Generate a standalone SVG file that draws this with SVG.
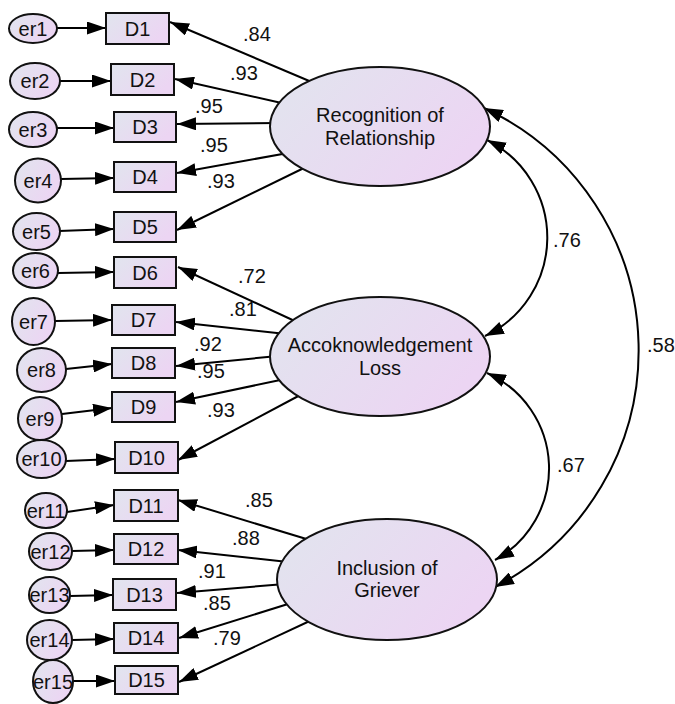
<svg xmlns="http://www.w3.org/2000/svg" width="675" height="704" viewBox="0 0 675 704">
<defs>
<linearGradient id="g" x1="0" y1="0" x2="1" y2="0.5">
<stop offset="0" stop-color="#e1e5ee"/>
<stop offset="1" stop-color="#ecd5f3"/>
</linearGradient>
<marker id="a" markerUnits="userSpaceOnUse" viewBox="0 0 19 13" markerWidth="19" markerHeight="13" refX="19" refY="6.5" orient="auto-start-reverse">
<path d="M0,0 L19,6.5 L0,13 z" fill="#000"/>
</marker>
</defs>
<style>
.n{fill:url(#g);stroke:#111;stroke-width:2}
.t{font-family:"Liberation Sans",Arial,sans-serif;font-size:20px;fill:#111;text-anchor:middle}
.l{font-family:"Liberation Sans",Arial,sans-serif;font-size:20px;fill:#111}
.c{fill:none;stroke:#000;stroke-width:2;marker-end:url(#a)}
.cc{fill:none;stroke:#000;stroke-width:2;marker-end:url(#a);marker-start:url(#a)}
</style>
<rect width="675" height="704" fill="#fff"/>
<g id="connectors">
<line class="c" x1="57" y1="28" x2="106" y2="28"/>
<line class="c" x1="60" y1="81" x2="111" y2="81"/>
<line class="c" x1="57" y1="128" x2="114" y2="128"/>
<line class="c" x1="61" y1="179" x2="114" y2="178"/>
<line class="c" x1="59" y1="231" x2="114" y2="229"/>
<line class="c" x1="58" y1="273" x2="114" y2="272"/>
<line class="c" x1="55" y1="321" x2="112" y2="320"/>
<line class="c" x1="66" y1="369" x2="112" y2="364"/>
<line class="c" x1="62" y1="414" x2="112" y2="408"/>
<line class="c" x1="66" y1="461" x2="115" y2="459"/>
<line class="c" x1="67" y1="512" x2="114" y2="505"/>
<line class="c" x1="72" y1="551" x2="114" y2="550"/>
<line class="c" x1="70" y1="596" x2="113" y2="595"/>
<line class="c" x1="72" y1="640" x2="114" y2="639"/>
<line class="c" x1="73" y1="681" x2="115" y2="681"/>
<line class="c" x1="314" y1="83" x2="170" y2="22"/>
<line class="c" x1="286" y1="104" x2="175" y2="79"/>
<line class="c" x1="278" y1="123" x2="177" y2="124"/>
<line class="c" x1="288" y1="153" x2="177" y2="173"/>
<line class="c" x1="307" y1="166.5" x2="177" y2="230"/>
<line class="c" x1="299" y1="323" x2="178" y2="267"/>
<line class="c" x1="286" y1="334" x2="176" y2="322"/>
<line class="c" x1="278" y1="356" x2="176" y2="366"/>
<line class="c" x1="285" y1="379" x2="176" y2="402"/>
<line class="c" x1="304" y1="393" x2="178" y2="460"/>
<line class="c" x1="313" y1="541" x2="178" y2="500"/>
<line class="c" x1="288" y1="562" x2="178" y2="550"/>
<line class="c" x1="285" y1="584" x2="177" y2="593"/>
<line class="c" x1="288" y1="604" x2="179" y2="638"/>
<line class="c" x1="314" y1="619" x2="179" y2="682"/>
<path class="cc" d="M487,140 A109,109 0 0 1 485,336"/>
<path class="cc" d="M487,373 A104.5,104.5 0 0 1 495,560"/>
<path class="cc" d="M484,108 A267,267 0 0 1 495,587"/>
<text class="l" x="243" y="41">.84</text>
<text class="l" x="230" y="80">.93</text>
<text class="l" x="195" y="113">.95</text>
<text class="l" x="200" y="152">.95</text>
<text class="l" x="207" y="188">.93</text>
<text class="l" x="238" y="283">.72</text>
<text class="l" x="229" y="316">.81</text>
<text class="l" x="194" y="351">.92</text>
<text class="l" x="197" y="378">.95</text>
<text class="l" x="207" y="417">.93</text>
<text class="l" x="245" y="507">.85</text>
<text class="l" x="232" y="545">.88</text>
<text class="l" x="198" y="578">.91</text>
<text class="l" x="203" y="610">.85</text>
<text class="l" x="213" y="645">.79</text>
<text class="l" x="553" y="247">.76</text>
<text class="l" x="557" y="472">.67</text>
<text class="l" x="647" y="352">.58</text>
</g>
<g id="F1"><ellipse class="n" cx="380" cy="126.5" rx="110" ry="59.5"/><text class="t" x="380" y="122">Recognition of</text><text class="t" x="380" y="145">Relationship</text></g>
<g id="F2"><ellipse class="n" cx="380" cy="356.5" rx="110" ry="59.5"/><text class="t" x="380" y="352">Accoknowledgement</text><text class="t" x="380" y="375">Loss</text></g>
<g id="F3"><ellipse class="n" cx="387" cy="579.5" rx="110" ry="60.5"/><text class="t" x="387" y="575">Inclusion of</text><text class="t" x="387" y="597">Griever</text></g>
<g id="D1"><rect class="n" x="106" y="13" width="63" height="31"/><text class="t" x="137.5" y="35.5">D1</text></g>
<g id="D2"><rect class="n" x="111" y="64" width="63" height="31"/><text class="t" x="142.5" y="86.5">D2</text></g>
<g id="D3"><rect class="n" x="114" y="112" width="62" height="30"/><text class="t" x="145" y="134">D3</text></g>
<g id="D4"><rect class="n" x="114" y="162" width="62" height="30"/><text class="t" x="145" y="184">D4</text></g>
<g id="D5"><rect class="n" x="114" y="212" width="62" height="30"/><text class="t" x="145" y="234">D5</text></g>
<g id="D6"><rect class="n" x="114" y="257" width="62" height="31"/><text class="t" x="145" y="279.5">D6</text></g>
<g id="D7"><rect class="n" x="112" y="305" width="63" height="30"/><text class="t" x="143.5" y="327">D7</text></g>
<g id="D8"><rect class="n" x="112" y="348" width="63" height="30"/><text class="t" x="143.5" y="370">D8</text></g>
<g id="D9"><rect class="n" x="112" y="392" width="63" height="30"/><text class="t" x="143.5" y="414">D9</text></g>
<g id="D10"><rect class="n" x="115" y="442" width="63" height="31"/><text class="t" x="146.5" y="464.5">D10</text></g>
<g id="D11"><rect class="n" x="114" y="490" width="64" height="31"/><text class="t" x="146" y="512.5">D11</text></g>
<g id="D12"><rect class="n" x="114" y="534" width="64" height="30"/><text class="t" x="146" y="556">D12</text></g>
<g id="D13"><rect class="n" x="113" y="579" width="63" height="31"/><text class="t" x="144.5" y="601.5">D13</text></g>
<g id="D14"><rect class="n" x="114" y="623" width="64" height="30"/><text class="t" x="146" y="645">D14</text></g>
<g id="D15"><rect class="n" x="115" y="666" width="63" height="28"/><text class="t" x="146.5" y="687">D15</text></g>
<g id="er1"><ellipse class="n" cx="33" cy="28.5" rx="24" ry="14.5"/><text class="t" x="33" y="35.5">er1</text></g>
<g id="er2"><ellipse class="n" cx="35" cy="81" rx="25" ry="18"/><text class="t" x="35" y="88">er2</text></g>
<g id="er3"><ellipse class="n" cx="33" cy="129.5" rx="24" ry="17.5"/><text class="t" x="33" y="136.5">er3</text></g>
<g id="er4"><ellipse class="n" cx="38" cy="180.5" rx="23" ry="22"/><text class="t" x="38" y="187.5">er4</text></g>
<g id="er5"><ellipse class="n" cx="36.5" cy="231.5" rx="23.5" ry="18.5"/><text class="t" x="36.5" y="238.5">er5</text></g>
<g id="er6"><ellipse class="n" cx="35.5" cy="270.5" rx="22.5" ry="17.5"/><text class="t" x="35.5" y="277.5">er6</text></g>
<g id="er7"><ellipse class="n" cx="33.5" cy="321.5" rx="21.5" ry="23.5"/><text class="t" x="33.5" y="328.5">er7</text></g>
<g id="er8"><ellipse class="n" cx="41.5" cy="370" rx="24.5" ry="22"/><text class="t" x="41.5" y="377">er8</text></g>
<g id="er9"><ellipse class="n" cx="40" cy="418.5" rx="22" ry="21.5"/><text class="t" x="40" y="425.5">er9</text></g>
<g id="er10"><ellipse class="n" cx="41.5" cy="459" rx="24.5" ry="19"/><text class="t" x="41.5" y="466">er10</text></g>
<g id="er11"><ellipse class="n" cx="46" cy="510.5" rx="21" ry="17.5"/><text class="t" x="46" y="517.5">er11</text></g>
<g id="er12"><ellipse class="n" cx="50.5" cy="551.5" rx="21.5" ry="18.5"/><text class="t" x="50.5" y="558.5">er12</text></g>
<g id="er13"><ellipse class="n" cx="49.5" cy="595" rx="20.5" ry="18"/><text class="t" x="49.5" y="602">er13</text></g>
<g id="er14"><ellipse class="n" cx="49.5" cy="640" rx="22.5" ry="20"/><text class="t" x="49.5" y="647">er14</text></g>
<g id="er15"><ellipse class="n" cx="53" cy="681.5" rx="20" ry="21.5"/><text class="t" x="53" y="688.5">er15</text></g>
</svg>
